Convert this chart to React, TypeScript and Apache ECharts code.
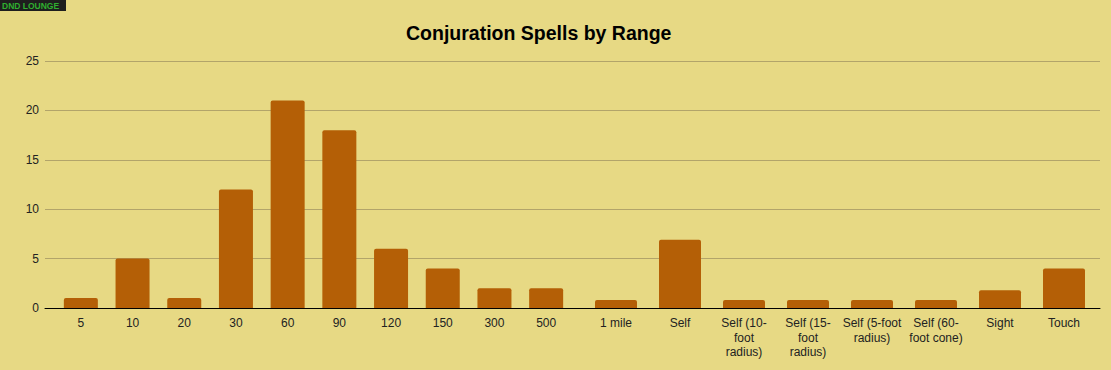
import React, { useEffect, useRef } from "react";
import * as echarts from "echarts";

const leftCategories = ["5", "10", "20", "30", "60", "90", "120", "150", "300", "500"];
const leftValues = [1, 5, 1, 12, 21, 18, 6, 4, 2, 2];

const rightCategories = [
  "1 mile",
  "Self",
  "Self (10-foot radius)",
  "Self (15-foot radius)",
  "Self (5-foot radius)",
  "Self (60-foot cone)",
  "Sight",
  "Touch",
];
const rightValues = [0.8, 6.9, 0.8, 0.8, 0.8, 0.8, 1.8, 4];

const wrappedLabels: Record<string, string> = {
  "Self (10-foot radius)": "Self (10-\nfoot\nradius)",
  "Self (15-foot radius)": "Self (15-\nfoot\nradius)",
  "Self (5-foot radius)": "Self (5-foot\nradius)",
  "Self (60-foot cone)": "Self (60-\nfoot cone)",
};

const yTicks = { min: 0, max: 25, interval: 5 };

const BG = "#E7D984";
const BAR = "#B45F06";
const GRID = "#B2A46A";
const TEXT = "#222222";

export default function App() {
  const ref = useRef<HTMLDivElement>(null);
  useEffect(() => {
    document.body.style.margin = "0";
    if (!ref.current) return;
    const chart = echarts.init(ref.current, undefined, { renderer: "svg" });
    const top = 61;
    const bottom = 62;
    const labelStyle = {
      color: TEXT,
      fontSize: 12,
      fontFamily: "Liberation Sans, Arial, sans-serif",
      lineHeight: 14.5,
      margin: 8,
      interval: 0,
      formatter: (v: string) => wrappedLabels[v] ?? v,
    };
    chart.setOption({
      animation: false,
      backgroundColor: BG,
      title: {
        text: "Conjuration Spells by Range",
        left: 401,
        top: 18,
        textStyle: {
          fontSize: 19.5,
          fontWeight: "bold",
          color: "#000",
          fontFamily: "Liberation Sans, Arial, sans-serif",
        },
      },
      graphic: [
        { type: "rect", left: 0, top: 0, shape: { width: 66, height: 11 }, style: { fill: "#1e1e1e" } },
        {
          type: "text",
          left: 2,
          top: 1.5,
          style: {
            text: "DND LOUNGE",
            fill: "#2fae2f",
            font: "bold 8.5px 'Liberation Sans', sans-serif",
          },
        },
      ],
      grid: [
        { left: 45, right: 11, top, bottom },
        { left: 55, width: 517, top, bottom },
        { left: 584, width: 512, top, bottom },
      ],
      xAxis: [
        {
          type: "category",
          gridIndex: 0,
          data: [""],
          axisLine: { show: true, lineStyle: { color: "#000", width: 1 } },
          axisTick: { show: false },
          axisLabel: { show: false },
        },
        {
          type: "category",
          gridIndex: 1,
          data: leftCategories,
          axisLine: { show: false },
          axisTick: { show: false },
          axisLabel: labelStyle,
        },
        {
          type: "category",
          gridIndex: 2,
          data: rightCategories,
          axisLine: { show: false },
          axisTick: { show: false },
          axisLabel: labelStyle,
        },
      ],
      yAxis: [
        {
          type: "value",
          gridIndex: 0,
          ...yTicks,
          axisLine: { show: false },
          axisTick: { show: false },
          axisLabel: {
            color: TEXT,
            fontSize: 12,
            fontFamily: "Liberation Sans, Arial, sans-serif",
            margin: 6,
          },
          splitLine: { lineStyle: { color: GRID, width: 1 } },
        },
        { type: "value", gridIndex: 1, ...yTicks, show: false, splitLine: { show: false } },
        { type: "value", gridIndex: 2, ...yTicks, show: false, splitLine: { show: false } },
      ],
      series: [
        {
          type: "bar",
          xAxisIndex: 1,
          yAxisIndex: 1,
          data: leftValues,
          barWidth: 34,
          itemStyle: { color: BAR, borderRadius: [2, 2, 0, 0] },
        },
        {
          type: "bar",
          xAxisIndex: 2,
          yAxisIndex: 2,
          data: rightValues,
          barWidth: 42,
          itemStyle: { color: BAR, borderRadius: [2, 2, 0, 0] },
        },
      ],
    });
    return () => chart.dispose();
  }, []);
  return <div ref={ref} style={{ width: 1111, height: 370 }} />;
}
